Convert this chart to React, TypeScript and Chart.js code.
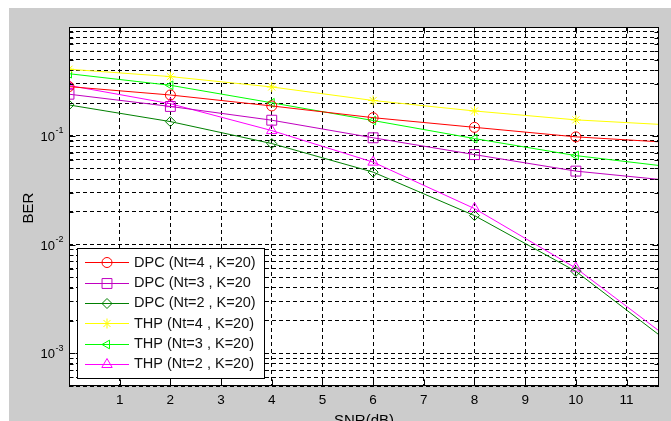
import React, { useEffect, useRef } from 'react';
import { Chart, registerables } from 'chart.js';
import { drawPoint } from 'chart.js/helpers';

Chart.register(...registerables);

// ---- data ----
const snrDb = [0, 2, 4, 6, 8, 10, 12];
const dpcNt4 = [0.283, 0.237, 0.188, 0.1466, 0.1195, 0.0977, 0.086];
const dpcNt3 = [0.241, 0.186, 0.139, 0.0958, 0.0671, 0.0473, 0.0382];
const dpcNt2 = [0.192, 0.135, 0.0848, 0.0463, 0.01845, 0.00566, 0.0011];
const thpNt4 = [0.409, 0.35, 0.281, 0.211, 0.169, 0.14, 0.1247];
const thpNt3 = [0.372, 0.291, 0.201, 0.138, 0.0942, 0.0657, 0.0509];
const thpNt2 = [0.29, 0.197, 0.1116, 0.0572, 0.0214, 0.00607, 0.0012];
const seriesLabels = [
  'DPC (Nt=4 , K=20)',
  'DPC (Nt=3 , K=20',
  'DPC (Nt=2 , K=20)',
  'THP (Nt=4 , K=20)',
  'THP (Nt=3 , K=20)',
  'THP (Nt=2 , K=20)',
];
const xTickValues = [1, 2, 3, 4, 5, 6, 7, 8, 9, 10, 11];
const xTickLabels = ['1', '2', '3', '4', '5', '6', '7', '8', '9', '10', '11'];
const yDecadeValues = [1e-1, 1e-2, 1e-3];
const yDecadeExponents = ['-1', '-2', '-3'];
const xTitle = 'SNR(dB)';
const yTitle = 'BER';

const FONT = '"Liberation Sans", Arial, Helvetica, sans-serif';

const styles = [
  { color: '#ff0000', pointStyle: 'circle', rotation: 0, radius: 5 },
  { color: '#c000c0', pointStyle: 'rect', rotation: 0, radius: 7 },
  { color: '#008000', pointStyle: 'rectRot', rotation: 0, radius: 5 },
  { color: '#ffff00', pointStyle: 'star', rotation: 0, radius: 5 },
  { color: '#00ff00', pointStyle: 'triangle', rotation: -90, radius: 5 },
  { color: '#ff00ff', pointStyle: 'triangle', rotation: 0, radius: 6 },
];

function buildYTicks(min: number, max: number) {
  const out: { value: number; major: boolean }[] = [];
  for (let e = -4; e <= 0; e++) {
    for (let m = 1; m <= 9; m++) {
      const v = m * Math.pow(10, e);
      if (v >= min * 0.999 && v <= max * 1.001) out.push({ value: v, major: m === 1 });
    }
  }
  return out;
}

const matlabPlugin = {
  id: 'matlabLook',
  beforeDraw(chart: any) {
    const { ctx, chartArea: a, width, height } = chart;
    ctx.save();
    ctx.fillStyle = '#ffffff';
    ctx.fillRect(0, 0, width, height);
    ctx.fillStyle = '#cccccc';
    ctx.fillRect(9, 8, width - 9, height - 8);
    ctx.fillStyle = '#ffffff';
    ctx.fillRect(a.left, a.top, a.right - a.left, a.bottom - a.top);
    ctx.restore();
  },
  afterDraw(chart: any) {
    const { ctx, chartArea: a } = chart;
    const xs = chart.scales.x;
    const ys = chart.scales.y;
    ctx.save();
    // axis box
    ctx.strokeStyle = '#000';
    ctx.lineWidth = 1;
    const L = Math.round(a.left) + 0.5;
    const R = Math.round(a.right) - 0.5;
    const T = Math.round(a.top) + 0.5;
    const B = Math.round(a.bottom) - 0.5;
    ctx.strokeRect(L, T, R - L, B - T);
    // inward ticks
    ctx.beginPath();
    xTickValues.forEach((v) => {
      const px = Math.round(xs.getPixelForValue(v)) + 0.5;
      ctx.moveTo(px, B);
      ctx.lineTo(px, B - 6);
      ctx.moveTo(px, T);
      ctx.lineTo(px, T + 6);
    });
    ys.ticks.forEach((t: any) => {
      const py = Math.round(ys.getPixelForValue(t.value)) + 0.5;
      const len = t.major ? 6 : 4;
      ctx.moveTo(L, py);
      ctx.lineTo(L + len, py);
      ctx.moveTo(R, py);
      ctx.lineTo(R - len, py);
    });
    ctx.stroke();

    // y decade labels with superscripts
    ctx.fillStyle = '#000';
    yDecadeValues.forEach((v, i) => {
      const py = ys.getPixelForValue(v);
      ctx.font = `13px ${FONT}`;
      ctx.textAlign = 'right';
      ctx.textBaseline = 'alphabetic';
      ctx.fillText('10', 55, py + 5);
      ctx.font = `9px ${FONT}`;
      ctx.textAlign = 'left';
      ctx.fillText(yDecadeExponents[i], 55.5, py - 2.5);
    });

    // axis titles
    ctx.font = `15px ${FONT}`;
    ctx.textAlign = 'center';
    ctx.textBaseline = 'alphabetic';
    ctx.fillText(xTitle, (a.left + a.right) / 2, 425);
    ctx.save();
    ctx.translate(33, 208);
    ctx.rotate(-Math.PI / 2);
    ctx.textBaseline = 'alphabetic';
    ctx.fillText(yTitle, 0, 0);
    ctx.restore();

    // legend
    const bx = 77, by = 248, bw = 187, bh = 130;
    ctx.fillStyle = '#ffffff';
    ctx.fillRect(bx, by, bw, bh);
    ctx.strokeStyle = '#000';
    ctx.strokeRect(bx + 0.5, by + 0.5, bw, bh);
    chart.data.datasets.forEach((ds: any, i: number) => {
      const st = styles[i];
      const y = 262.3 + i * 20.3;
      ctx.strokeStyle = st.color;
      ctx.lineWidth = 1;
      ctx.beginPath();
      ctx.moveTo(85, Math.round(y) + 0.5);
      ctx.lineTo(129, Math.round(y) + 0.5);
      ctx.stroke();
      ctx.fillStyle = 'rgba(0,0,0,0)';
      drawPoint(ctx, { pointStyle: st.pointStyle, rotation: st.rotation, radius: st.radius, borderWidth: 1 } as any, 107, Math.round(y) + 0.5);
      ctx.fillStyle = '#111';
      ctx.font = `14.5px ${FONT}`;
      ctx.textAlign = 'left';
      ctx.textBaseline = 'middle';
      ctx.fillText(ds.label, 134, y + 0.5);
    });
    ctx.restore();
  },
};

export default function App() {
  const ref = useRef<HTMLCanvasElement | null>(null);
  useEffect(() => {
    document.body.style.margin = '0';
    if (!ref.current) return;
    const series = [dpcNt4, dpcNt3, dpcNt2, thpNt4, thpNt3, thpNt2];
    const datasets = series.map((vals, i) => ({
      label: seriesLabels[i],
      data: snrDb.map((x, j) => ({ x, y: vals[j] })),
      borderColor: styles[i].color,
      backgroundColor: 'rgba(0,0,0,0)',
      borderWidth: 1,
      pointStyle: styles[i].pointStyle,
      pointRotation: styles[i].rotation,
      pointRadius: styles[i].radius,
      pointBorderWidth: 1,
      pointBorderColor: styles[i].color,
      pointBackgroundColor: 'rgba(0,0,0,0)',
      tension: 0,
      fill: false,
    }));
    const chart = new Chart(ref.current, {
      type: 'line',
      data: { datasets },
      plugins: [matlabPlugin],
      options: {
        animation: false,
        responsive: true,
        maintainAspectRatio: false,
        devicePixelRatio: 1,
        events: [],
        layout: { padding: { top: 27, right: 12, left: 0, bottom: 0 } },
        plugins: { legend: { display: false }, tooltip: { enabled: false } },
        scales: {
          x: {
            type: 'linear',
            min: 0,
            max: 11.64,
            afterBuildTicks: (s: any) => {
              s.ticks = xTickValues.map((v) => ({ value: v }));
            },
            afterFit: (s: any) => {
              s.height = 35;
            },
            grid: { color: '#000', lineWidth: 1, drawTicks: false },
            border: { display: false, dash: [4, 3] },
            ticks: {
              color: '#000',
              font: { family: FONT, size: 13.5 },
              padding: 6,
              autoSkip: false,
              maxRotation: 0,
              callback: (_v: any, i: number) => xTickLabels[i],
            },
          },
          y: {
            type: 'logarithmic',
            min: 5e-4,
            max: 1,
            afterBuildTicks: (s: any) => {
              s.ticks = buildYTicks(5e-4, 1);
            },
            afterFit: (s: any) => {
              s.width = 69;
            },
            grid: { color: '#000', lineWidth: 1, drawTicks: false },
            border: { display: false, dash: [4, 3] },
            ticks: { display: false },
          },
        },
      } as any,
    });
    return () => chart.destroy();
  }, []);
  return (
    <div style={{ width: 671, height: 421, position: 'relative' }}>
      <canvas ref={ref} />
    </div>
  );
}
